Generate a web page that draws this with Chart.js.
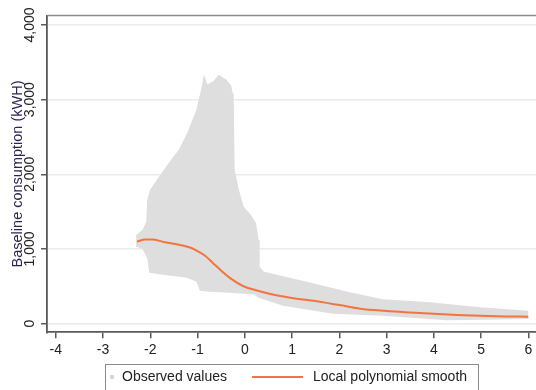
<!DOCTYPE html>
<html>
<head>
<meta charset="utf-8">
<script src="https://cdn.jsdelivr.net/npm/chart.js"></script>
<style>
  html, body { margin: 0; padding: 0; background: #fff; }
</style>
</head>
<body>
<canvas id="scatterChart" width="536" height="390"></canvas>
<script>
// tick labels
var xTicks = [-4, -3, -2, -1, 0, 1, 2, 3, 4, 5, 6];
var yTicks = [0, 1000, 2000, 3000, 4000];

// observed values: upper and lower edge of the point cloud
var cloudTopX = [-2.30, -2.15, -2.07, -2.05, -1.99, -1.80, -1.59, -1.38, -1.20, -1.01, -0.91, -0.86, -0.80, -0.65, -0.55, -0.40, -0.30, -0.27, -0.25, -0.23, -0.14, -0.04, 0.11, 0.22, 0.28, 0.30, 0.39, 0.81, 1.53, 2.22, 2.92, 3.92, 4.98, 6.00];
var cloudTopY = [1174, 1255, 1362, 1656, 1790, 1965, 2152, 2326, 2554, 2862, 3130, 3300, 3190, 3240, 3320, 3260, 3180, 3080, 2995, 2056, 1790, 1562, 1455, 1348, 1120, 760, 690, 627, 518, 411, 317, 277, 210, 165];
var cloudBotX = [-2.30, -2.16, -2.05, -2.01, -1.73, -1.22, -1.01, -0.94, -0.74, -0.31, 0.20, 0.30, 0.81, 1.87, 2.92, 4.28, 5.00, 6.00];
var cloudBotY = [1040, 1013, 880, 690, 665, 625, 572, 451, 437, 424, 400, 355, 250, 143, 117, 55, 62, 74];

// local polynomial smooth
var smoothX = [-2.28, -2.11, -1.94, -1.69, -1.37, -1.16, -1.01, -0.84, -0.67, -0.48, -0.31, -0.04, 0.26, 0.50, 0.75, 1.10, 1.50, 1.85, 2.00, 2.44, 3.00, 3.50, 4.00, 4.50, 5.00, 5.50, 6.00];
var smoothY = [1098, 1127, 1127, 1090, 1054, 1020, 975, 910, 810, 700, 610, 505, 445, 405, 370, 335, 305, 265, 250, 200, 170, 150, 132, 118, 105, 98, 94];

function pts(xs, ys) {
  return xs.map(function (x, i) { return { x: x, y: ys[i] }; });
}

var fontFam = '"Liberation Sans", Arial, sans-serif';
var cloudColor = '#dedede';
var lineColor = '#f2743e';
var axisColor = '#595959';

Chart.defaults.font.family = fontFam;
Chart.defaults.color = '#222';

// rotated y labels, top frame line and boxed legend
var extras = {
  id: 'extras',
  afterDraw: function (chart) {
    var c = chart.ctx, a = chart.chartArea, ys = chart.scales.y;
    c.save();
    c.strokeStyle = '#8c8c8c';
    c.lineWidth = 1.5;
    c.beginPath();
    c.moveTo(a.left, a.top);
    c.lineTo(a.right, a.top);
    c.stroke();

    c.fillStyle = '#222';
    c.font = '14px ' + fontFam;
    c.textAlign = 'center';
    c.textBaseline = 'middle';
    yTicks.forEach(function (v) {
      c.save();
      c.translate(30.5, ys.getPixelForValue(v));
      c.rotate(-Math.PI / 2);
      c.fillText(v.toLocaleString('en-US'), 0, 0);
      c.restore();
    });

    // legend
    var ds = chart.data.datasets;
    c.strokeStyle = '#8a8a8a';
    c.lineWidth = 1;
    c.strokeRect(105.5, 364.5, 373, 30);
    c.fillStyle = '#d4d4d4';
    c.beginPath();
    c.arc(112, 377, 2.2, 0, Math.PI * 2);
    c.fill();
    c.fillStyle = '#222';
    c.textAlign = 'left';
    c.fillText(ds[0].label, 122, 377);
    c.strokeStyle = lineColor;
    c.lineWidth = 2;
    c.beginPath();
    c.moveTo(252, 377);
    c.lineTo(303, 377);
    c.stroke();
    c.fillText(ds[2].label, 313, 377);
    c.restore();
  }
};

var ctx = document.getElementById('scatterChart').getContext('2d');
var chart = new Chart(ctx, {
  type: 'line',
  data: {
    datasets: [{
      label: 'Observed values',
      data: pts(cloudTopX, cloudTopY),
      borderColor: cloudColor,
      borderWidth: 1.5,
      backgroundColor: cloudColor,
      pointRadius: 0,
      tension: 0,
      fill: false,
      order: 1
    }, {
      label: 'Observed values (lower edge)',
      data: pts(cloudBotX, cloudBotY),
      borderColor: cloudColor,
      borderWidth: 1.5,
      backgroundColor: cloudColor,
      pointRadius: 0,
      tension: 0,
      fill: '-1',
      order: 1
    }, {
      label: 'Local polynomial smooth',
      data: pts(smoothX, smoothY),
      borderColor: lineColor,
      borderWidth: 2,
      pointRadius: 0,
      cubicInterpolationMode: 'monotone',
      fill: false,
      order: 0
    }]
  },
  options: {
    responsive: false,
    animation: false,
    layout: { padding: { top: 15.6, left: 0, right: 0, bottom: 0 } },
    plugins: {
      legend: { display: false },
      tooltip: { enabled: false }
    },
    scales: {
      x: {
        type: 'linear',
        min: -4.186,
        max: 6.163,
        afterBuildTicks: function (s) { s.ticks = xTicks.map(function (v) { return { value: v }; }); },
        afterFit: function (s) { s.height = 57.7; s.paddingLeft = 0; s.paddingRight = 0; },
        ticks: { padding: 3, font: { size: 14 }, color: '#222' },
        grid: { drawOnChartArea: false, drawTicks: true, tickLength: 6, tickColor: axisColor, lineWidth: 1.5 },
        border: { display: true, color: axisColor, width: 1.8 }
      },
      y: {
        min: -115,
        max: 4125,
        afterBuildTicks: function (s) { s.ticks = yTicks.map(function (v) { return { value: v }; }); },
        afterFit: function (s) { s.width = 47; s.paddingTop = 0; s.paddingBottom = 0; },
        ticks: { display: false },
        grid: { color: '#ebebeb', lineWidth: 1.5, drawTicks: true, tickLength: 6, tickColor: axisColor },
        border: { display: true, color: axisColor, width: 1.8 },
        title: {
          display: true,
          text: 'Baseline consumption (kWH)',
          color: '#2e2250',
          font: { size: 14.5 },
          padding: { top: 9, bottom: 0 }
        }
      }
    }
  },
  plugins: [extras]
});
</script>
</body>
</html>
